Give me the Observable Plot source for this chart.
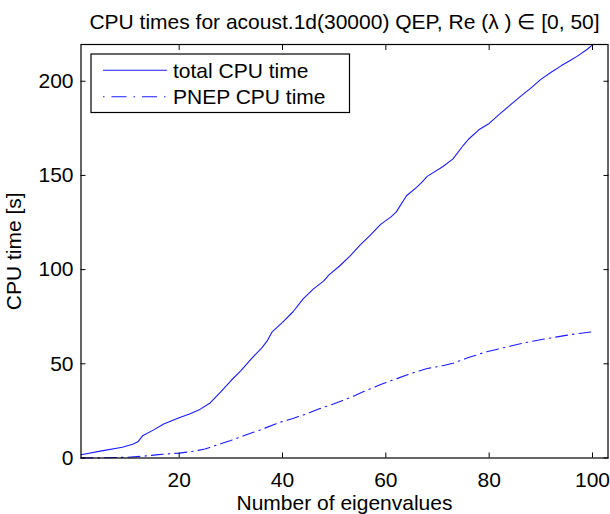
<!DOCTYPE html>
<html><head><meta charset="utf-8">
<script src="https://cdn.jsdelivr.net/npm/d3@7"></script>
<script src="https://cdn.jsdelivr.net/npm/@observablehq/plot@0.6"></script>
<style>body{margin:0;background:#fff}</style>
</head><body><div id="chart"></div>
<script>
// Data
const eigTotal = [1, 5, 9, 11, 12, 13, 15, 17, 20, 22, 24, 26, 28, 30, 32, 34, 36, 37, 38, 40, 42, 44, 46, 48, 49, 51, 53, 55, 57, 59, 61, 62, 64, 66, 67, 68, 71, 73, 75, 76, 78, 80, 82, 84, 86, 88, 90, 92, 94, 96, 97, 99, 100];
const cpuTotal = [1.7, 3.8, 5.7, 7.3, 8.6, 12.0, 14.8, 18.0, 21.4, 23.4, 25.8, 29.2, 35.0, 41.0, 46.5, 52.8, 58.5, 62.0, 67.0, 72.0, 77.5, 84.5, 89.8, 94.0, 97.2, 101.8, 107.0, 113.0, 118.3, 124.0, 128.0, 130.5, 139.2, 143.8, 146.5, 149.5, 154.6, 158.8, 166.0, 169.2, 174.2, 177.6, 182.5, 187.2, 191.8, 196.2, 201.0, 204.8, 208.3, 211.5, 213.2, 217.0, 219.3];
const eigPnep = [1, 5, 10, 14, 16, 20, 23, 25, 27, 30, 33, 36, 39, 42, 44, 47, 50, 53, 56, 59, 62, 65, 68, 71, 73, 76, 79, 82, 85, 88, 91, 94, 97, 100];
const cpuPnep = [0, 0.1, 0.4, 1.2, 1.8, 2.6, 3.7, 4.8, 6.6, 9.3, 12.3, 15.2, 18.5, 21.0, 22.8, 26.0, 28.8, 32.0, 35.6, 39.0, 42.0, 45.0, 47.5, 49.0, 50.3, 53.3, 56.0, 58.0, 60.0, 61.8, 63.3, 64.7, 66.0, 67.0];
const xTicks = [20, 40, 60, 80, 100];
const yTicks = [0, 50, 100, 150, 200];
const seriesNames = ["total CPU time", "PNEP CPU time"];
const titleText = "CPU times for acoust.1d(30000) QEP, Re (\u03BB ) \u2208 [0, 50]";
const xLabel = "Number of eigenvalues";
const yLabel = "CPU time [s]";

const total = eigTotal.map((x, i) => ({x, y: cpuTotal[i]}));
const pnep = eigPnep.map((x, i) => ({x, y: cpuPnep[i]}));

const blue = "#1a1aff";
const dash = "12,5,1.5,5";
const font = "'Liberation Sans', Arial, Helvetica, sans-serif";

const plot = Plot.plot({
  width: 610, height: 514,
  marginLeft: 80.5, marginRight: 2.5, marginTop: 44, marginBottom: 56.5,
  style: {fontFamily: font, fontSize: "21px", background: "white", color: "black", overflow: "visible"},
  x: {domain: [1, 103]},
  y: {domain: [0, 219.5]},
  marks: [
    Plot.line(total, {x: "x", y: "y", stroke: blue, strokeWidth: 1.1}),
    Plot.line(pnep, {x: "x", y: "y", stroke: blue, strokeWidth: 1.1, strokeDasharray: dash}),
    Plot.frame({stroke: "black", strokeWidth: 1.2}),
    Plot.axisX({ticks: xTicks, tickSize: -5, tickPadding: 19, label: xLabel, labelAnchor: "center", labelArrow: "none", labelOffset: 51.8, fontSize: 21}),
    Plot.axisX({anchor: "top", ticks: xTicks, tickSize: -5, tickFormat: () => "", label: null}),
    Plot.axisY({ticks: yTicks, tickSize: -5, tickPadding: 12.5, label: yLabel, labelAnchor: "center", labelArrow: "none", labelOffset: 75, fontSize: 21}),
    Plot.axisY({anchor: "right", ticks: yTicks, tickSize: -5, tickFormat: () => "", label: null}),
    Plot.text([titleText], {frameAnchor: "top", lineAnchor: "middle", dy: -22, fontSize: 21})
  ]
});

// Legend box
const svg = d3.select(plot);
const g = svg.append("g").attr("font-family", font).attr("font-size", 21).attr("text-anchor", "start");
g.append("rect").attr("x", 91).attr("y", 54).attr("width", 258.5).attr("height", 58.5)
  .attr("fill", "white").attr("stroke", "black").attr("stroke-width", 1.2);
const rows = [70.3, 96.7];
seriesNames.forEach((name, i) => {
  g.append("line").attr("x1", 103).attr("x2", 167).attr("y1", rows[i]).attr("y2", rows[i])
    .attr("stroke", blue).attr("stroke-width", 1.1).attr("stroke-dasharray", i ? "1.5,7,15,7" : null);
  g.append("text").attr("x", 173).attr("y", rows[i]).attr("dy", "0.35em").attr("text-anchor", "start").text(name);
});
document.getElementById("chart").appendChild(plot);
</script>
</body></html>
